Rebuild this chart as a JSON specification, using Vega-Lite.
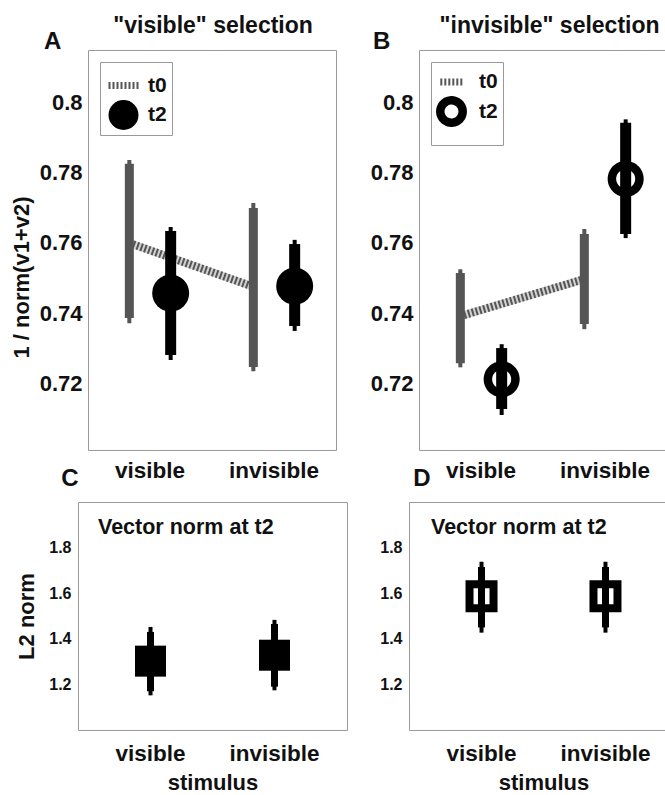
{
  "$schema": "https://vega.github.io/schema/vega-lite/v6.json",
  "background": "white",
  "padding": {"left": 9, "top": 14, "right": 0, "bottom": 0},
  "datasets": {
    "ab": [
      {"panel": "A", "stimulus": "visible", "time": "t0", "mean": 0.760, "lo": 0.7386, "hi": 0.7826, "lo2": 0.7371, "hi2": 0.7837},
      {"panel": "A", "stimulus": "visible", "time": "t2", "mean": 0.7457, "lo": 0.728, "hi": 0.7634, "lo2": 0.7266, "hi2": 0.7646},
      {"panel": "A", "stimulus": "invisible", "time": "t0", "mean": 0.7475, "lo": 0.7246, "hi": 0.770, "lo2": 0.7234, "hi2": 0.7714},
      {"panel": "A", "stimulus": "invisible", "time": "t2", "mean": 0.7477, "lo": 0.7363, "hi": 0.7597, "lo2": 0.7349, "hi2": 0.7609},
      {"panel": "B", "stimulus": "visible", "time": "t0", "mean": 0.7391, "lo": 0.7257, "hi": 0.7514, "lo2": 0.7245, "hi2": 0.7525},
      {"panel": "B", "stimulus": "visible", "time": "t2", "mean": 0.7211, "lo": 0.7126, "hi": 0.730, "lo2": 0.7109, "hi2": 0.7311},
      {"panel": "B", "stimulus": "invisible", "time": "t0", "mean": 0.7497, "lo": 0.7369, "hi": 0.7626, "lo2": 0.7354, "hi2": 0.764},
      {"panel": "B", "stimulus": "invisible", "time": "t2", "mean": 0.7783, "lo": 0.7626, "hi": 0.7943, "lo2": 0.7614, "hi2": 0.7953}
    ],
    "cd": [
      {"panel": "C", "stimulus": "visible", "mean": 1.302, "lo": 1.17, "hi": 1.43, "lo2": 1.152, "hi2": 1.452},
      {"panel": "C", "stimulus": "invisible", "mean": 1.328, "lo": 1.19, "hi": 1.465, "lo2": 1.174, "hi2": 1.483},
      {"panel": "D", "stimulus": "visible", "mean": 1.587, "lo": 1.45, "hi": 1.715, "lo2": 1.427, "hi2": 1.738},
      {"panel": "D", "stimulus": "invisible", "mean": 1.587, "lo": 1.45, "hi": 1.715, "lo2": 1.427, "hi2": 1.738}
    ],
    "blank": [{"v": 0}]
  },
  "spacing": -16,
  "vconcat": [
    {
      "spacing": 32,
      "resolve": {"scale": {"shape": "independent", "fill": "independent", "stroke": "independent", "strokeWidth": "independent", "strokeDash": "independent"}, "legend": {"shape": "independent", "fill": "independent", "stroke": "independent", "strokeWidth": "independent", "strokeDash": "independent"}},
      "hconcat": [
        {
          "spacing": -70,
          "resolve": {"scale": {"shape": "independent", "fill": "independent", "stroke": "independent", "strokeWidth": "independent", "strokeDash": "independent"}, "legend": {"shape": "independent", "fill": "independent", "stroke": "independent", "strokeWidth": "independent", "strokeDash": "independent"}},
          "hconcat": [
            {"width": 1, "height": 1, "data": {"name": "blank"}, "mark": {"type": "point", "opacity": 0, "size": 0}, "view": {"stroke": null}},
            {
              "title": {"text": "\"visible\" selection", "anchor": "middle", "fontSize": 23, "dx": 40, "offset": -8},
              "resolve": {"scale": {"shape": "independent", "fill": "independent", "stroke": "independent", "strokeWidth": "independent", "strokeDash": "independent"}, "legend": {"shape": "independent", "fill": "independent", "stroke": "independent", "strokeWidth": "independent", "strokeDash": "independent"}},
              "vconcat": [
                {
                  "width": 248, "height": 400,
                  "data": {"name": "ab"},
                  "transform": [{"filter": "datum.panel === 'A'"}],
                  "title": {"text": "A", "anchor": "start", "frame": "group", "dx": -44, "fontSize": 24, "offset": -4},
                  "encoding": {
                    "x": {"field": "stimulus", "type": "nominal", "sort": null, "scale": {"domain": ["visible", "invisible"], "paddingInner": 0, "paddingOuter": 0}, "axis": {"title": null, "labelAngle": 0, "labelFontSize": 22.5, "labelPadding": 9}},
                    "xOffset": {"field": "time", "type": "nominal", "scale": {"type": "point", "domain": ["t0", "t2"], "padding": 1.5}}
                  },
                  "layer": [
                    {"transform": [{"filter": "datum.time === 't0'"}], "mark": {"type": "line", "color": "#d2d2d2", "strokeWidth": 8},
                     "encoding": {"y": {"field": "mean", "type": "quantitative", "scale": {"domain": [0.7009, 0.8151], "nice": false, "zero": false},
                       "axis": {"values": [0.72, 0.74, 0.76, 0.78, 0.8], "format": "~g", "labelFontSize": 22, "labelPadding": 6, "title": "1 / norm(v1+v2)", "titleFontSize": 22, "titlePadding": 6, "titleY": 227}}}},
                    {"transform": [{"filter": "datum.time === 't0'"}], "mark": {"type": "line", "color": "#555555", "strokeWidth": 8, "strokeDash": [2, 2]},
                     "encoding": {"y": {"field": "mean", "type": "quantitative"}}},
                    {"transform": [{"filter": "datum.time === 't0'"}], "mark": {"type": "rule", "strokeWidth": 4, "color": "#555555"},
                     "encoding": {"y": {"field": "lo2", "type": "quantitative"}, "y2": {"field": "hi2"}}},
                    {"transform": [{"filter": "datum.time === 't0'"}], "mark": {"type": "rule", "strokeWidth": 9, "color": "#555555"},
                     "encoding": {"y": {"field": "lo", "type": "quantitative"}, "y2": {"field": "hi"}}},
                    {"transform": [{"filter": "datum.time === 't2'"}], "mark": {"type": "point", "filled": true, "opacity": 1, "size": 1369},
                     "encoding": {"y": {"field": "mean", "type": "quantitative"},
                       "shape": {"field": "time", "type": "nominal", "scale": {"domain": ["t0", "t2"], "range": ["stroke", "circle"]}, "legend": {"title": null, "symbolSize": 900, "rowPadding": -10}},
                       "fill": {"field": "time", "type": "nominal", "scale": {"domain": ["t0", "t2"], "range": ["#555555", "#000000"]}, "legend": {"title": null, "symbolSize": 900, "rowPadding": -10}},
                       "stroke": {"field": "time", "type": "nominal", "scale": {"domain": ["t0", "t2"], "range": ["#555555", "#000000"]}, "legend": {"title": null, "symbolSize": 900, "rowPadding": -10}},
                       "strokeWidth": {"field": "time", "type": "nominal", "scale": {"domain": ["t0", "t2"], "range": [7, 0]}, "legend": {"title": null, "symbolSize": 900, "rowPadding": -10}},
                       "strokeDash": {"field": "time", "type": "nominal", "scale": {"domain": ["t0", "t2"], "range": [[2, 2], [1, 0]]}, "legend": {"title": null, "symbolSize": 900, "rowPadding": -10}}}},
                    {"transform": [{"filter": "datum.time === 't2'"}], "mark": {"type": "rule", "strokeWidth": 4, "color": "#000000"},
                     "encoding": {"y": {"field": "lo2", "type": "quantitative"}, "y2": {"field": "hi2"}}},
                    {"transform": [{"filter": "datum.time === 't2'"}], "mark": {"type": "rule", "strokeWidth": 11, "color": "#000000"},
                     "encoding": {"y": {"field": "lo", "type": "quantitative"}, "y2": {"field": "hi"}}}
                  ]
                }
              ]
            }
          ]
        },
        {
          "title": {"text": "\"invisible\" selection", "anchor": "middle", "fontSize": 23, "dx": 31, "offset": -8},
          "resolve": {"scale": {"shape": "independent", "fill": "independent", "stroke": "independent", "strokeWidth": "independent", "strokeDash": "independent"}, "legend": {"shape": "independent", "fill": "independent", "stroke": "independent", "strokeWidth": "independent", "strokeDash": "independent"}},
          "vconcat": [
            {
              "width": 248, "height": 400,
              "data": {"name": "ab"},
              "transform": [{"filter": "datum.panel === 'B'"}],
              "title": {"text": "B", "anchor": "start", "frame": "group", "dx": -46, "fontSize": 24, "offset": -4},
              "encoding": {
                "x": {"field": "stimulus", "type": "nominal", "sort": null, "scale": {"domain": ["visible", "invisible"], "paddingInner": 0, "paddingOuter": 0}, "axis": {"title": null, "labelAngle": 0, "labelFontSize": 22.5, "labelPadding": 9}},
                "xOffset": {"field": "time", "type": "nominal", "scale": {"type": "point", "domain": ["t0", "t2"], "padding": 1.5}}
              },
              "layer": [
                {"transform": [{"filter": "datum.time === 't0'"}], "mark": {"type": "line", "color": "#d2d2d2", "strokeWidth": 8},
                 "encoding": {"y": {"field": "mean", "type": "quantitative", "scale": {"domain": [0.7009, 0.8151], "nice": false, "zero": false},
                   "axis": {"values": [0.72, 0.74, 0.76, 0.78, 0.8], "format": "~g", "labelFontSize": 22, "labelPadding": 6, "title": null}}}},
                {"transform": [{"filter": "datum.time === 't0'"}], "mark": {"type": "line", "color": "#555555", "strokeWidth": 8, "strokeDash": [2, 2]},
                 "encoding": {"y": {"field": "mean", "type": "quantitative"}}},
                {"transform": [{"filter": "datum.time === 't0'"}], "mark": {"type": "rule", "strokeWidth": 4, "color": "#555555"},
                 "encoding": {"y": {"field": "lo2", "type": "quantitative"}, "y2": {"field": "hi2"}}},
                {"transform": [{"filter": "datum.time === 't0'"}], "mark": {"type": "rule", "strokeWidth": 9, "color": "#555555"},
                 "encoding": {"y": {"field": "lo", "type": "quantitative"}, "y2": {"field": "hi"}}},
                {"transform": [{"filter": "datum.time === 't2'"}], "mark": {"type": "point", "filled": true, "opacity": 1, "size": 756},
                 "encoding": {"y": {"field": "mean", "type": "quantitative"},
                   "shape": {"field": "time", "type": "nominal", "scale": {"domain": ["t0", "t2"], "range": ["stroke", "circle"]}, "legend": {"title": null, "symbolSize": 500, "rowPadding": -15, "labelOffset": 12}},
                   "fill": {"field": "time", "type": "nominal", "scale": {"domain": ["t0", "t2"], "range": ["#555555", "#ffffff"]}, "legend": {"title": null, "symbolSize": 500, "rowPadding": -15, "labelOffset": 12}},
                   "stroke": {"field": "time", "type": "nominal", "scale": {"domain": ["t0", "t2"], "range": ["#555555", "#000000"]}, "legend": {"title": null, "symbolSize": 500, "rowPadding": -15, "labelOffset": 12}},
                   "strokeWidth": {"field": "time", "type": "nominal", "scale": {"domain": ["t0", "t2"], "range": [7, 8.5]}, "legend": {"title": null, "symbolSize": 500, "rowPadding": -15, "labelOffset": 12}},
                   "strokeDash": {"field": "time", "type": "nominal", "scale": {"domain": ["t0", "t2"], "range": [[2, 2], [1, 0]]}, "legend": {"title": null, "symbolSize": 500, "rowPadding": -15, "labelOffset": 12}}}},
                {"transform": [{"filter": "datum.time === 't2'"}], "mark": {"type": "rule", "strokeWidth": 4, "color": "#000000"},
                 "encoding": {"y": {"field": "lo2", "type": "quantitative"}, "y2": {"field": "hi2"}}},
                {"transform": [{"filter": "datum.time === 't2'"}], "mark": {"type": "rule", "strokeWidth": 11, "color": "#000000"},
                 "encoding": {"y": {"field": "lo", "type": "quantitative"}, "y2": {"field": "hi"}}}
              ]
            }
          ]
        }
      ]
    },
    {
      "spacing": 31,
      "hconcat": [
        {
          "title": {"text": "C", "anchor": "start", "fontSize": 24, "dx": 46, "offset": 11},
          "vconcat": [
            {
              "width": 269, "height": 228,
              "data": {"name": "cd"},
              "transform": [{"filter": "datum.panel === 'C'"}],
              "title": {"text": "Vector norm at t2", "anchor": "start", "frame": "group", "dx": 20, "offset": -36.5, "fontSize": 21.5},
              "encoding": {
                "x": {"field": "stimulus", "type": "nominal", "sort": null, "scale": {"domain": ["visible", "invisible"], "paddingInner": 0, "paddingOuter": 0.085},
                  "axis": {"title": "stimulus", "labelAngle": 0, "labelFontSize": 22.5, "labelPadding": 12, "titleFontSize": 22, "titlePadding": 8}}
              },
              "layer": [
                {"mark": {"type": "rule", "strokeWidth": 4, "color": "#000"},
                 "encoding": {"y": {"field": "lo2", "type": "quantitative", "scale": {"domain": [1.0, 2.0], "nice": false, "zero": false},
                   "axis": {"values": [1.2, 1.4, 1.6, 1.8], "format": ".1f", "labelFontSize": 16, "labelPadding": 7, "title": "L2 norm", "titleFontSize": 22, "titlePadding": 10}},
                   "y2": {"field": "hi2"}}},
                {"mark": {"type": "point", "shape": "square", "filled": true, "fill": "#000", "opacity": 1, "size": 961},
                 "encoding": {"y": {"field": "mean", "type": "quantitative"}}},
                {"mark": {"type": "rule", "strokeWidth": 7, "color": "#000"},
                 "encoding": {"y": {"field": "lo", "type": "quantitative"}, "y2": {"field": "hi"}}}
              ]
            }
          ]
        },
        {
          "title": {"text": "D", "anchor": "start", "fontSize": 24, "dx": 34, "offset": 11},
          "vconcat": [
            {
              "width": 269, "height": 228,
              "data": {"name": "cd"},
              "transform": [{"filter": "datum.panel === 'D'"}],
              "title": {"text": "Vector norm at t2", "anchor": "start", "frame": "group", "dx": 22, "offset": -36.5, "fontSize": 21.5},
              "encoding": {
                "x": {"field": "stimulus", "type": "nominal", "sort": null, "scale": {"domain": ["visible", "invisible"], "paddingInner": 0, "paddingOuter": 0.085},
                  "axis": {"title": "stimulus", "labelAngle": 0, "labelFontSize": 22.5, "labelPadding": 12, "titleFontSize": 22, "titlePadding": 8}}
              },
              "layer": [
                {"mark": {"type": "point", "shape": "square", "filled": true, "fill": "#fff", "stroke": "#000", "strokeWidth": 8, "opacity": 1, "fillOpacity": 1, "strokeOpacity": 1, "size": 576},
                 "encoding": {"y": {"field": "mean", "type": "quantitative", "scale": {"domain": [1.0, 2.0], "nice": false, "zero": false},
                   "axis": {"values": [1.2, 1.4, 1.6, 1.8], "format": ".1f", "labelFontSize": 16, "labelPadding": 7, "title": null}}}},
                {"mark": {"type": "rule", "strokeWidth": 4, "color": "#000"},
                 "encoding": {"y": {"field": "lo2", "type": "quantitative"}, "y2": {"field": "hi2"}}},
                {"mark": {"type": "rule", "strokeWidth": 7, "color": "#000"},
                 "encoding": {"y": {"field": "lo", "type": "quantitative"}, "y2": {"field": "hi"}}}
              ]
            }
          ]
        }
      ]
    }
  ],
  "config": {
    "font": "Liberation Sans",
    "view": {"stroke": "#9a9a9a", "strokeWidth": 1},
    "axis": {"domain": false, "ticks": false, "grid": false, "labelFontWeight": "bold", "labelColor": "#111111", "titleFontWeight": "bold", "titleColor": "#111111"},
    "title": {"fontWeight": "bold", "color": "#111111", "font": "Liberation Sans"},
    "legend": {"orient": "top-left", "offset": 12, "labelFontSize": 21, "labelFontWeight": "bold", "labelColor": "#111111", "strokeColor": "#999999", "fillColor": "white", "padding": 5, "rowPadding": 0, "labelOffset": 6, "symbolOpacity": 1}
  }
}
